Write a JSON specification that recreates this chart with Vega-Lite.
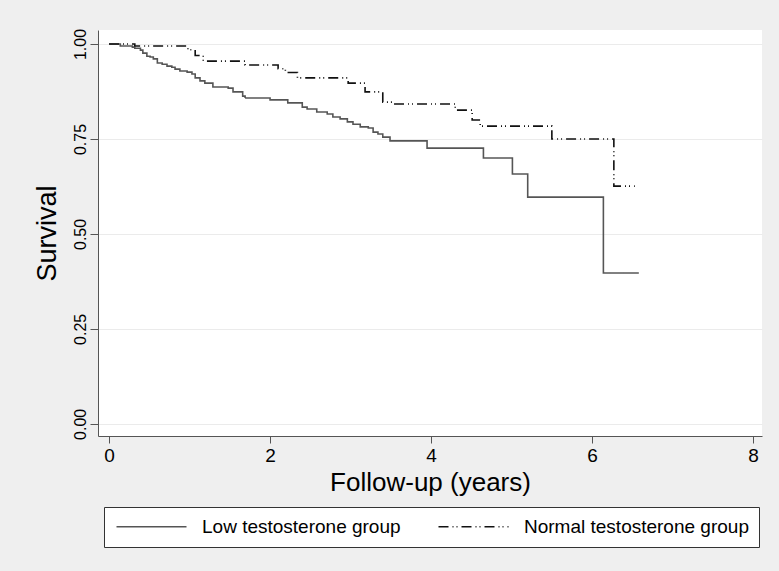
{
  "$schema": "https://vega.github.io/schema/vega-lite/v6.json",
  "width": 664,
  "height": 406,
  "autosize": {"type": "none"},
  "padding": {"left": 98, "top": 30, "right": 17, "bottom": 135},
  "background": "#efefef",
  "config": {
    "view": {"fill": "white", "stroke": null},
    "font": "Liberation Sans"
  },
  "data": {
    "values": [
      {"group": "Low testosterone group", "t": 0, "S": 1.0},
      {"group": "Low testosterone group", "t": 0.14, "S": 0.995},
      {"group": "Low testosterone group", "t": 0.29, "S": 0.992},
      {"group": "Low testosterone group", "t": 0.32, "S": 0.989},
      {"group": "Low testosterone group", "t": 0.39, "S": 0.984},
      {"group": "Low testosterone group", "t": 0.42, "S": 0.976},
      {"group": "Low testosterone group", "t": 0.47, "S": 0.968},
      {"group": "Low testosterone group", "t": 0.51, "S": 0.966},
      {"group": "Low testosterone group", "t": 0.55, "S": 0.961},
      {"group": "Low testosterone group", "t": 0.60, "S": 0.950},
      {"group": "Low testosterone group", "t": 0.66, "S": 0.947},
      {"group": "Low testosterone group", "t": 0.72, "S": 0.942},
      {"group": "Low testosterone group", "t": 0.78, "S": 0.939},
      {"group": "Low testosterone group", "t": 0.82, "S": 0.934},
      {"group": "Low testosterone group", "t": 0.88, "S": 0.929},
      {"group": "Low testosterone group", "t": 0.97, "S": 0.926},
      {"group": "Low testosterone group", "t": 1.03, "S": 0.921},
      {"group": "Low testosterone group", "t": 1.07, "S": 0.911},
      {"group": "Low testosterone group", "t": 1.13, "S": 0.903},
      {"group": "Low testosterone group", "t": 1.19, "S": 0.897},
      {"group": "Low testosterone group", "t": 1.29, "S": 0.887},
      {"group": "Low testosterone group", "t": 1.48, "S": 0.884},
      {"group": "Low testosterone group", "t": 1.54, "S": 0.874},
      {"group": "Low testosterone group", "t": 1.66, "S": 0.863},
      {"group": "Low testosterone group", "t": 1.69, "S": 0.858},
      {"group": "Low testosterone group", "t": 2.0, "S": 0.853},
      {"group": "Low testosterone group", "t": 2.22, "S": 0.845},
      {"group": "Low testosterone group", "t": 2.40, "S": 0.834},
      {"group": "Low testosterone group", "t": 2.46, "S": 0.829},
      {"group": "Low testosterone group", "t": 2.58, "S": 0.821},
      {"group": "Low testosterone group", "t": 2.71, "S": 0.816},
      {"group": "Low testosterone group", "t": 2.78, "S": 0.808},
      {"group": "Low testosterone group", "t": 2.87, "S": 0.803},
      {"group": "Low testosterone group", "t": 2.96, "S": 0.795},
      {"group": "Low testosterone group", "t": 3.03, "S": 0.789},
      {"group": "Low testosterone group", "t": 3.12, "S": 0.782},
      {"group": "Low testosterone group", "t": 3.22, "S": 0.779},
      {"group": "Low testosterone group", "t": 3.28, "S": 0.768},
      {"group": "Low testosterone group", "t": 3.34, "S": 0.763},
      {"group": "Low testosterone group", "t": 3.40, "S": 0.755},
      {"group": "Low testosterone group", "t": 3.49, "S": 0.745},
      {"group": "Low testosterone group", "t": 3.95, "S": 0.726},
      {"group": "Low testosterone group", "t": 4.65, "S": 0.700},
      {"group": "Low testosterone group", "t": 5.01, "S": 0.658},
      {"group": "Low testosterone group", "t": 5.20, "S": 0.597},
      {"group": "Low testosterone group", "t": 6.14, "S": 0.397},
      {"group": "Low testosterone group", "t": 6.58, "S": 0.397},
      {"group": "Normal testosterone group", "t": 0, "S": 1.0},
      {"group": "Normal testosterone group", "t": 0.32, "S": 0.995},
      {"group": "Normal testosterone group", "t": 0.98, "S": 0.985},
      {"group": "Normal testosterone group", "t": 1.07, "S": 0.970},
      {"group": "Normal testosterone group", "t": 1.17, "S": 0.955},
      {"group": "Normal testosterone group", "t": 1.69, "S": 0.945},
      {"group": "Normal testosterone group", "t": 2.10, "S": 0.935},
      {"group": "Normal testosterone group", "t": 2.19, "S": 0.925},
      {"group": "Normal testosterone group", "t": 2.34, "S": 0.911},
      {"group": "Normal testosterone group", "t": 2.97, "S": 0.897},
      {"group": "Normal testosterone group", "t": 3.18, "S": 0.874},
      {"group": "Normal testosterone group", "t": 3.40, "S": 0.847},
      {"group": "Normal testosterone group", "t": 3.52, "S": 0.842},
      {"group": "Normal testosterone group", "t": 4.30, "S": 0.826},
      {"group": "Normal testosterone group", "t": 4.51, "S": 0.800},
      {"group": "Normal testosterone group", "t": 4.61, "S": 0.784},
      {"group": "Normal testosterone group", "t": 5.50, "S": 0.750},
      {"group": "Normal testosterone group", "t": 6.27, "S": 0.626},
      {"group": "Normal testosterone group", "t": 6.53, "S": 0.626}
    ]
  },
  "mark": {"type": "line", "interpolate": "step-after", "strokeWidth": 1.6},
  "encoding": {
    "x": {
      "field": "t",
      "type": "quantitative",
      "scale": {"domain": [-0.137, 8.11], "nice": false, "zero": false},
      "axis": {
        "values": [0, 2, 4, 6, 8],
        "title": "Follow-up (years)",
        "grid": false,
        "domainColor": "#555",
        "tickColor": "#555",
        "tickSize": 7,
        "labelFontSize": 19,
        "labelColor": "black",
        "labelPadding": 3,
        "titleFontSize": 26,
        "titleFontWeight": "normal",
        "titleColor": "black",
        "titlePadding": 4
      }
    },
    "y": {
      "field": "S",
      "type": "quantitative",
      "scale": {"domain": [-0.032, 1.037], "nice": false, "zero": false},
      "axis": {
        "values": [0, 0.25, 0.5, 0.75, 1],
        "format": ".2f",
        "title": "Survival",
        "grid": true,
        "gridColor": "#ebebeb",
        "domainColor": "#555",
        "tickColor": "#555",
        "tickSize": 8,
        "labelAngle": 270,
        "labelAlign": "center",
        "labelBaseline": "bottom",
        "labelFontSize": 16,
        "labelColor": "black",
        "labelPadding": 2,
        "titleFontSize": 27,
        "titleFontWeight": "normal",
        "titleColor": "black",
        "titlePadding": 11
      }
    },
    "color": {
      "field": "group",
      "type": "nominal",
      "scale": {"domain": ["Low testosterone group", "Normal testosterone group"], "range": ["#555555", "#111111"]},
      "legend": {
        "orient": "none",
        "legendX": 6,
        "legendY": 477,
        "direction": "horizontal",
        "title": null,
        "symbolType": "M-1,0H9",
        "symbolSize": 196,
        "symbolStrokeWidth": 1.5,
        "labelFontSize": 19,
        "labelColor": "black",
        "labelLimit": 400,
        "labelOffset": 69,
        "columnPadding": 34,
        "padding": 10,
        "fillColor": "white",
        "strokeColor": "#333333"
      }
    },
    "strokeDash": {
      "field": "group",
      "type": "nominal",
      "scale": {"domain": ["Low testosterone group", "Normal testosterone group"], "range": [[1, 0], [10, 4, 1, 3, 1, 4]]}
    }
  }
}
